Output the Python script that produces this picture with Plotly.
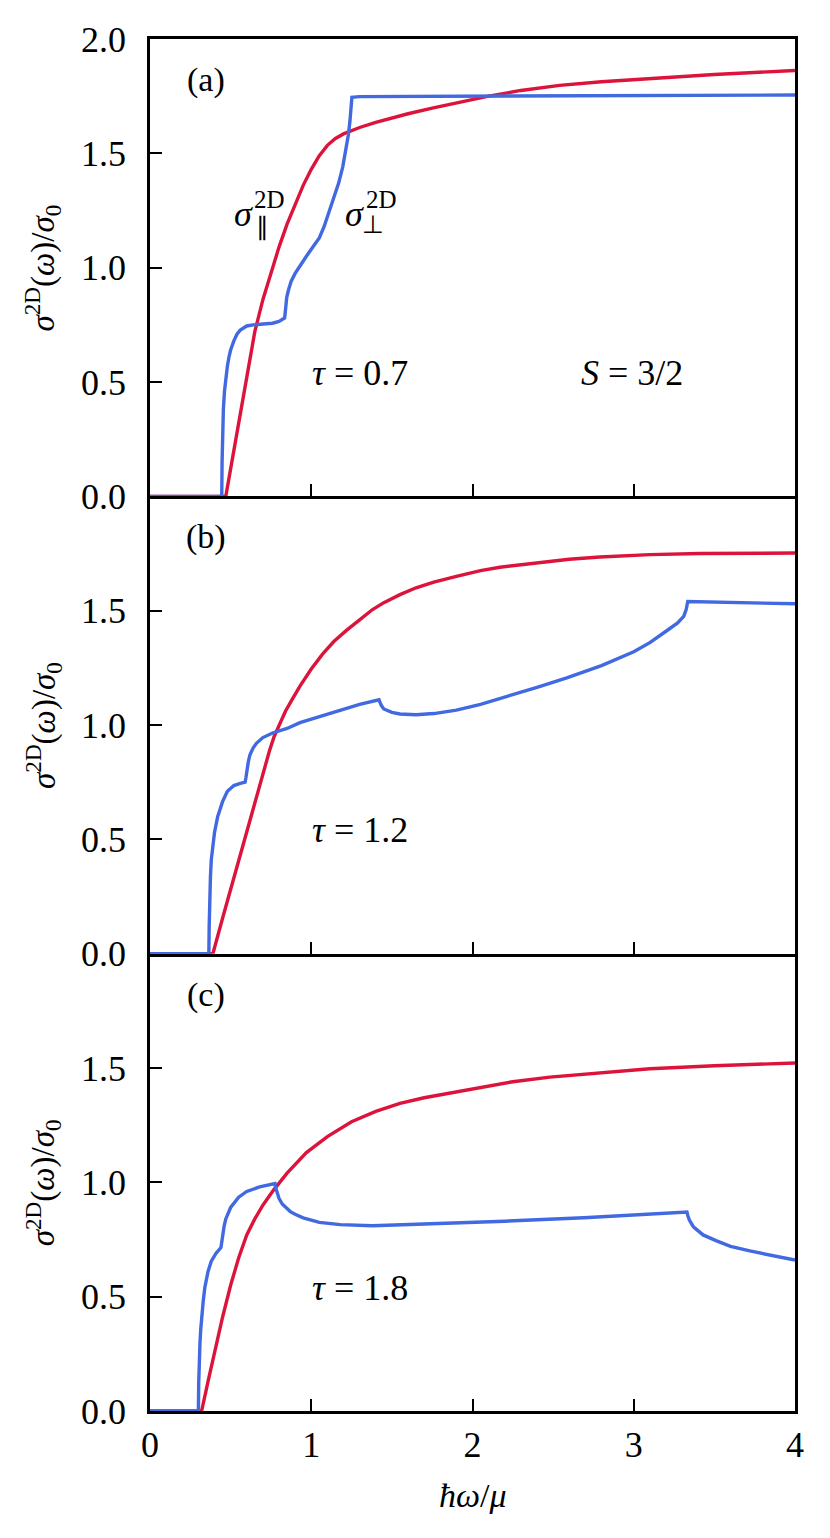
import plotly.graph_objects as go
from plotly.subplots import make_subplots

# ---------------- data ----------------
# Panel (a), tau = 0.7
a_par_x = [0, 0.47, 0.50, 0.55, 0.60, 0.65, 0.70, 0.75, 0.80, 0.85, 0.90, 0.95, 1.00, 1.05, 1.10,
           1.15, 1.20, 1.25, 1.30, 1.40, 1.50, 1.60, 1.75, 1.92, 2.10, 2.30, 2.54, 2.80, 3.16, 3.50, 4.00]
a_par_y = [0, 0, 0.12, 0.32, 0.53, 0.72, 0.86, 0.98, 1.09, 1.19, 1.28, 1.36, 1.43, 1.49, 1.535,
           1.565, 1.585, 1.60, 1.613, 1.635, 1.655, 1.673, 1.698, 1.725, 1.75, 1.775, 1.797, 1.813, 1.83, 1.845, 1.862]
a_perp_x = [0, 0.445, 0.447, 0.450, 0.455, 0.462, 0.47, 0.48, 0.49, 0.50, 0.52, 0.54, 0.56, 0.58, 0.60,
            0.64, 0.70, 0.76, 0.80, 0.835, 0.838, 0.842, 0.848, 0.858, 0.875, 0.90, 0.93, 0.97, 1.01, 1.05,
            1.08, 1.11, 1.14, 1.17, 1.195, 1.215, 1.23, 1.24, 1.247, 1.252, 1.30, 2.00, 3.00, 4.00]
a_perp_y = [0, 0, 0.15, 0.28, 0.38, 0.46, 0.52, 0.57, 0.61, 0.64, 0.68, 0.71, 0.727, 0.738, 0.745,
            0.75, 0.752, 0.757, 0.765, 0.78, 0.80, 0.84, 0.87, 0.90, 0.94, 0.975, 1.01, 1.05, 1.09, 1.13,
            1.18, 1.24, 1.30, 1.37, 1.44, 1.51, 1.58, 1.64, 1.70, 1.745, 1.748, 1.75, 1.752, 1.755]

# Panel (b), tau = 1.2
b_par_x = [0, 0.39, 0.45, 0.50, 0.55, 0.60, 0.65, 0.70, 0.74, 0.77, 0.80, 0.84, 0.88, 0.93, 1.00,
           1.07, 1.14, 1.22, 1.30, 1.38, 1.45, 1.55, 1.65, 1.76, 1.90, 2.05, 2.17, 2.40, 2.60, 2.79,
           3.10, 3.41, 4.00]
b_par_y = [0, 0, 0.155, 0.28, 0.41, 0.54, 0.665, 0.79, 0.885, 0.95, 1.00, 1.06, 1.11, 1.17, 1.245,
           1.31, 1.365, 1.415, 1.46, 1.505, 1.535, 1.57, 1.60, 1.625, 1.65, 1.675, 1.69, 1.71, 1.725, 1.735,
           1.745, 1.75, 1.752]
b_perp_x = [0, 0.365, 0.367, 0.370, 0.375, 0.38, 0.39, 0.40, 0.42, 0.45, 0.48, 0.52, 0.56, 0.59, 0.595,
            0.60, 0.61, 0.62, 0.64, 0.66, 0.70, 0.76, 0.85, 0.93, 1.07, 1.20, 1.30, 1.42, 1.425, 1.435,
            1.45, 1.50, 1.55, 1.65, 1.76, 1.90, 2.05, 2.17, 2.40, 2.58, 2.80, 3.00, 3.10, 3.20, 3.27,
            3.31, 3.325, 3.335, 3.50, 4.00]
b_perp_y = [0, 0, 0.12, 0.24, 0.34, 0.41, 0.48, 0.53, 0.60, 0.665, 0.71, 0.735, 0.745, 0.75, 0.77,
            0.80, 0.84, 0.87, 0.90, 0.92, 0.945, 0.965, 0.985, 1.01, 1.04, 1.07, 1.09, 1.11, 1.10, 1.085,
            1.07, 1.055, 1.048, 1.045, 1.05, 1.065, 1.09, 1.115, 1.165, 1.205, 1.26, 1.32, 1.36, 1.41, 1.445,
            1.475, 1.505, 1.54, 1.538, 1.53]

# Panel (c), tau = 1.8
c_par_x = [0, 0.32, 0.36, 0.40, 0.45, 0.50, 0.55, 0.60, 0.65, 0.70, 0.765, 0.85, 0.97, 1.10, 1.25,
           1.40, 1.55, 1.70, 1.86, 2.05, 2.25, 2.48, 2.79, 3.10, 3.50, 4.00]
c_par_y = [0, 0, 0.13, 0.26, 0.41, 0.55, 0.67, 0.77, 0.84, 0.90, 0.965, 1.04, 1.13, 1.20, 1.265,
           1.31, 1.345, 1.37, 1.39, 1.415, 1.44, 1.46, 1.48, 1.497, 1.51, 1.522]
c_perp_x = [0, 0.30, 0.302, 0.305, 0.31, 0.315, 0.32, 0.33, 0.34, 0.36, 0.38, 0.41, 0.44, 0.445, 0.45,
            0.46, 0.47, 0.50, 0.55, 0.60, 0.68, 0.775, 0.778, 0.785, 0.80, 0.82, 0.84, 0.87, 0.90, 0.95,
            1.05, 1.18, 1.38, 1.60, 1.86, 2.20, 2.69, 3.00, 3.33, 3.335, 3.345, 3.37, 3.40, 3.43, 3.51,
            3.60, 3.72, 3.85, 4.00]
c_perp_y = [0, 0, 0.12, 0.22, 0.30, 0.36, 0.41, 0.48, 0.54, 0.61, 0.655, 0.69, 0.715, 0.74, 0.77,
            0.81, 0.84, 0.89, 0.935, 0.96, 0.98, 0.995, 0.98, 0.96, 0.93, 0.905, 0.89, 0.872, 0.86, 0.845,
            0.825, 0.815, 0.81, 0.815, 0.82, 0.83, 0.845, 0.857, 0.87, 0.855, 0.835, 0.805, 0.785, 0.77, 0.745,
            0.72, 0.70, 0.68, 0.66]

panel_labels = ["(a)", "(b)", "(c)"]
tau_labels = ["<i>τ</i> = 0.7", "<i>τ</i> = 1.2", "<i>τ</i> = 1.8"]
x_ticks = [0, 1, 2, 3, 4]
y_ticks_top = [0, 0.5, 1.0, 1.5, 2.0]
y_ticks_low = [0, 0.5, 1.0, 1.5]

RED = "#DC143C"
BLUE = "#4169E1"
FONT = "Liberation Serif"
BLACK = "black"

fig = make_subplots(rows=3, cols=1, shared_xaxes=True, vertical_spacing=0)

panels = [(a_par_x, a_par_y, a_perp_x, a_perp_y),
          (b_par_x, b_par_y, b_perp_x, b_perp_y),
          (c_par_x, c_par_y, c_perp_x, c_perp_y)]
for i, (px, py, qx, qy) in enumerate(panels, start=1):
    fig.add_trace(go.Scatter(x=px, y=py, mode="lines", line=dict(color=RED, width=3.4),
                             showlegend=False, hoverinfo="skip"), row=i, col=1)
    fig.add_trace(go.Scatter(x=qx, y=qy, mode="lines", line=dict(color=BLUE, width=3.4),
                             showlegend=False, hoverinfo="skip"), row=i, col=1)

axis_common = dict(showline=True, linecolor=BLACK, linewidth=2.8,
                   ticks="inside", ticklen=12, tickwidth=2.4, tickcolor=BLACK,
                   showgrid=False, zeroline=False,
                   tickfont=dict(family=FONT, size=36, color=BLACK))

for i in range(1, 4):
    fig.update_xaxes(range=[0, 4], tickvals=x_ticks, mirror=(i == 1), **axis_common, row=i, col=1)
    fig.update_yaxes(range=[0, 2.0], tickvals=(y_ticks_top if i == 1 else y_ticks_low),
                     tickformat=".1f", ticklabelstandoff=14, mirror=True, **axis_common, row=i, col=1)
fig.update_xaxes(ticklabelstandoff=0, row=3, col=1)

ylab = "<i>σ</i><sup>2D</sup>(<i>ω</i>)/<i>σ</i><sub>0</sub>"
annotations = []
for i in range(3):
    xr = "x" if i == 0 else f"x{i+1}"
    yr = "y" if i == 0 else f"y{i+1}"
    annotations.append(dict(x=0.347, y=1.82, xref=xr, yref=yr, text=panel_labels[i],
                            showarrow=False, font=dict(family=FONT, size=34, color=BLACK)))
    annotations.append(dict(x=1.30, y=0.54, xref=xr, yref=yr, text=tau_labels[i],
                            showarrow=False, font=dict(family=FONT, size=36, color=BLACK)))
    yc = [1 - 1 / 6, 0.5, 1 / 6][i]
    annotations.append(dict(x=-0.166, y=yc, xref="paper", yref="paper", text=ylab,
                            textangle=-90, showarrow=False, xanchor="center", yanchor="middle",
                            font=dict(family=FONT, size=33, color=BLACK)))

annotations.append(dict(x=2.99, y=0.54, xref="x", yref="y", text="<i>S</i> = 3/2",
                        showarrow=False, font=dict(family=FONT, size=36, color=BLACK)))
# sigma_parallel label (parts placed so that super/subscript stack)
annotations.append(dict(x=0.577, y=1.236, xref="x", yref="y", text="<i>σ</i>",
                        showarrow=False, font=dict(family=FONT, size=36, color=BLACK)))
annotations.append(dict(x=0.738, y=1.297, xref="x", yref="y", text="2D",
                        showarrow=False, font=dict(family=FONT, size=25, color=BLACK)))
annotations.append(dict(x=0.695, y=1.179, xref="x", yref="y", text="∥",
                        showarrow=False, font=dict(family=FONT, size=25, color=BLACK)))
# sigma_perp label
annotations.append(dict(x=1.271, y=1.236, xref="x", yref="y", text="<i>σ</i>",
                        showarrow=False, font=dict(family=FONT, size=36, color=BLACK)))
annotations.append(dict(x=1.433, y=1.297, xref="x", yref="y", text="2D",
                        showarrow=False, font=dict(family=FONT, size=25, color=BLACK)))
annotations.append(dict(x=1.383, y=1.19, xref="x", yref="y", text="⊥",
                        showarrow=False, font=dict(family=FONT, size=25, color=BLACK)))
annotations.append(dict(x=0.5, y=-0.0465, xref="paper", yref="paper", text="<i>ħω</i>/<i>μ</i>",
                        showarrow=False, xanchor="center", yanchor="top",
                        font=dict(family=FONT, size=34, color=BLACK)))

fig.update_layout(width=822, height=1530, margin=dict(l=142, r=35, t=29, b=127),
                  paper_bgcolor="white", plot_bgcolor="white",
                  annotations=annotations)

fig.write_html("out.html")
